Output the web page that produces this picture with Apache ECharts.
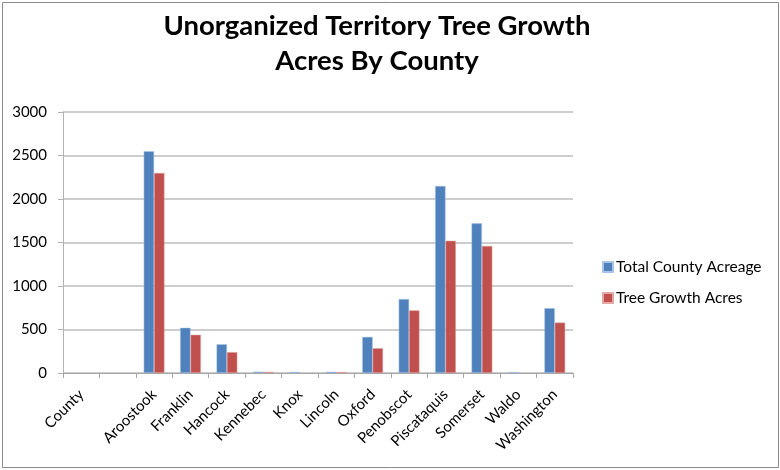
<!DOCTYPE html>
<html>
<head>
<meta charset="utf-8">
<script src="https://cdn.jsdelivr.net/npm/echarts@6/dist/echarts.min.js"></script>
<style>
  html, body { margin: 0; padding: 0; background: #fff; }
  #chart { width: 780px; height: 470px; }
</style>
</head>
<body>
<div id="chart"></div>
<script>
// County names along the category axis (first two slots are the header row and a blank row)
const counties = ['County', '', 'Aroostook', 'Franklin', 'Hancock', 'Kennebec', 'Knox',
  'Lincoln', 'Oxford', 'Penobscot', 'Piscataquis', 'Somerset', 'Waldo', 'Washington'];

// Total unorganized territory acreage per county
const totalAcreage = [null, null, 2550, 520, 330, 15, 12, 14, 415, 850, 2150, 1720, 10, 745];

// Acreage enrolled in tree growth per county
const treeGrowthAcres = [null, null, 2300, 440, 240, 13, null, 12, 285, 720, 1520, 1460, null, 580];

// Value-axis ticks
const yTicks = { min: 0, max: 3000, step: 500 };

const font = 'Lato, "Open Sans", sans-serif';

const chart = echarts.init(document.getElementById('chart'), null, { renderer: 'canvas' });

chart.setOption({
  animation: false,
  backgroundColor: '#fff',
  title: {
    text: 'Unorganized Territory Tree Growth\nAcres By County',
    left: 372,
    top: 4,
    textAlign: 'center',
    textStyle: {
      fontFamily: font,
      fontWeight: 'bold',
      fontSize: 27.5,
      lineHeight: 35,
      color: '#000'
    }
  },
  graphic: [{
    type: 'rect',
    shape: { x: 2.5, y: 2.5, width: 776, height: 465 },
    style: { fill: 'none', stroke: '#8a8a8a', lineWidth: 1 },
    silent: true
  }],
  legend: {
    orient: 'vertical',
    left: 597,
    top: 254,
    itemWidth: 10,
    itemHeight: 10,
    itemGap: 15,
    icon: 'rect',
    textStyle: { fontFamily: font, fontSize: 15.5, color: '#000', padding: [0, 0, 0, -2] },
    data: ['Total County Acreage', 'Tree Growth Acres']
  },
  grid: {
    left: 63,
    top: 112,
    width: 510,
    height: 261,
    containLabel: false
  },
  xAxis: {
    type: 'category',
    data: counties,
    axisLine: { show: true, lineStyle: { color: '#a6a6a6', width: 1 } },
    axisTick: { show: true, alignWithLabel: false, length: 5, lineStyle: { color: '#a6a6a6' } },
    axisLabel: {
      interval: 0,
      rotate: 45,
      margin: 19,
      fontFamily: font,
      fontSize: 15,
      color: '#000'
    }
  },
  yAxis: {
    type: 'value',
    min: yTicks.min,
    max: yTicks.max,
    interval: yTicks.step,
    axisLine: { show: true, lineStyle: { color: '#b3b3b3', width: 1 } },
    axisTick: { show: true, length: 5, lineStyle: { color: '#b3b3b3' } },
    splitLine: { show: true, lineStyle: { color: '#bdbdbd', width: 1.5 } },
    axisLabel: {
      margin: 16,
      fontFamily: font,
      fontSize: 15,
      color: '#000',
      formatter: (v) => String(v)
    }
  },
  series: [
    {
      name: 'Total County Acreage',
      type: 'bar',
      data: totalAcreage,
      barGap: '0%',
      barCategoryGap: '43%',
      itemStyle: { color: '#4F81BD', borderColor: '#a9c4e6', borderWidth: 0.5 }
    },
    {
      name: 'Tree Growth Acres',
      type: 'bar',
      data: treeGrowthAcres,
      barGap: '0%',
      barCategoryGap: '43%',
      itemStyle: { color: '#C0504D', borderColor: '#e3a9a7', borderWidth: 0.5 }
    }
  ]
});
</script>
</body>
</html>
